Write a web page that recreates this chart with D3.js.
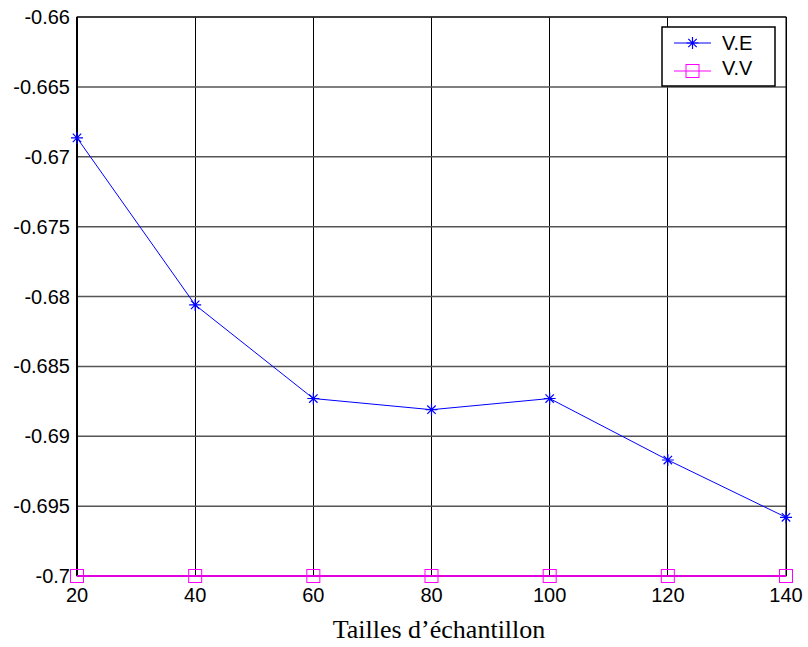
<!DOCTYPE html>
<meta charset="utf-8">
<style>
body { margin: 0; background: #fff; }
text { font-family: "Liberation Sans", Arial, sans-serif; }
</style>
<svg width="808" height="647"></svg>
<script src="https://d3js.org/d3.v7.min.js"></script>
<script>

var sizes = [20, 40, 60, 80, 100, 120, 140];
var ve = [-0.66865, -0.6806, -0.6873, -0.6881, -0.6873, -0.6917, -0.6958];
var vv = [-0.7, -0.7, -0.7, -0.7, -0.7, -0.7, -0.7];
var yTicks = [-0.66, -0.665, -0.67, -0.675, -0.68, -0.685, -0.69, -0.695, -0.7];
var yTickLabels = ["-0.66", "-0.665", "-0.67", "-0.675", "-0.68", "-0.685", "-0.69", "-0.695", "-0.7"];

var svg = d3.select("svg");
var plotL = 77, plotR = 786, plotT = 17, plotB = 576;

var x = d3.scaleLinear().domain([20, 140]).range([plotL, plotR]);
var y = d3.scaleLinear().domain([-0.7, -0.66]).range([plotB, plotT]);

// grid
svg.append("g").selectAll("line").data(sizes).enter().append("line")
    .attr("x1", function(d) { return x(d); }).attr("x2", function(d) { return x(d); })
    .attr("y1", plotT).attr("y2", plotB)
    .attr("stroke", "#000").attr("stroke-width", 1).attr("shape-rendering", "crispEdges");
svg.append("g").selectAll("line").data(yTicks).enter().append("line")
    .attr("x1", plotL).attr("x2", plotR)
    .attr("y1", function(d) { return y(d); }).attr("y2", function(d) { return y(d); })
    .attr("stroke", "#555").attr("stroke-width", 1.5);

// box
svg.append("rect").attr("x", plotL).attr("y", plotT)
    .attr("width", plotR - plotL).attr("height", plotB - plotT)
    .attr("fill", "none").attr("stroke", "#000").attr("stroke-width", 1);
svg.append("line").attr("x1", plotL).attr("x2", plotL).attr("y1", plotT).attr("y2", plotB)
    .attr("stroke", "#000").attr("stroke-width", 2);
svg.append("line").attr("x1", plotL).attr("x2", plotR).attr("y1", plotB).attr("y2", plotB)
    .attr("stroke", "#000").attr("stroke-width", 2);

// tick labels
svg.append("g").selectAll("text").data(yTicks).enter().append("text")
    .attr("x", plotL - 7).attr("y", function(d) { return y(d); })
    .attr("dy", "0.35em").attr("text-anchor", "end")
    .attr("font-size", 20)
    .text(function(d, i) { return yTickLabels[i]; });
svg.append("g").selectAll("text").data(sizes).enter().append("text")
    .attr("x", function(d) { return x(d); }).attr("y", plotB + 26)
    .attr("text-anchor", "middle").attr("font-size", 20)
    .text(function(d) { return d; });

svg.append("text").attr("x", 439).attr("y", 638)
    .attr("text-anchor", "middle")
    .style("font-family", "'Liberation Serif', 'Times New Roman', serif")
    .attr("font-size", 26)
    .text("Tailles d\u2019échantillon");

var line = d3.line().x(function(d, i) { return x(sizes[i]); }).y(function(d) { return y(d); });

// V.V
svg.append("path").datum(vv).attr("d", line)
    .attr("fill", "none").attr("stroke", "#e000e0").attr("stroke-width", 2);
svg.append("g").selectAll("rect").data(vv).enter().append("rect")
    .attr("x", function(d, i) { return x(sizes[i]) - 6.5; })
    .attr("y", function(d) { return y(d) - 6.5; })
    .attr("width", 13).attr("height", 13)
    .attr("fill", "none").attr("stroke", "#ff00ff").attr("stroke-width", 1);

// V.E
svg.append("path").datum(ve).attr("d", line)
    .attr("fill", "none").attr("stroke", "#0000ff").attr("stroke-width", 1);
function star(g, cx, cy, r) {
  var p = "M" + (cx - r) + "," + cy + "H" + (cx + r) +
          "M" + cx + "," + (cy - r) + "V" + (cy + r) +
          "M" + (cx - r * 0.7) + "," + (cy - r * 0.7) + "L" + (cx + r * 0.7) + "," + (cy + r * 0.7) +
          "M" + (cx - r * 0.7) + "," + (cy + r * 0.7) + "L" + (cx + r * 0.7) + "," + (cy - r * 0.7);
  g.append("path").attr("d", p).attr("stroke", "#0000ff").attr("stroke-width", 1.2).attr("fill", "none");
}
var stars = svg.append("g");
ve.forEach(function(d, i) { star(stars, x(sizes[i]), y(d), 6); });

// legend
var lg = svg.append("g");
lg.append("rect").attr("x", 662).attr("y", 27).attr("width", 113).attr("height", 59)
    .attr("fill", "#fff").attr("stroke", "#000").attr("stroke-width", 1.5);
lg.append("line").attr("x1", 674).attr("x2", 711).attr("y1", 43).attr("y2", 43)
    .attr("stroke", "#0000ff").attr("stroke-width", 1);
star(lg, 692.5, 43, 6);
lg.append("line").attr("x1", 674).attr("x2", 711).attr("y1", 71).attr("y2", 71)
    .attr("stroke", "#ff00ff").attr("stroke-width", 1);
lg.append("rect").attr("x", 686).attr("y", 64.5).attr("width", 13).attr("height", 13)
    .attr("fill", "none").attr("stroke", "#ff00ff").attr("stroke-width", 1);
lg.append("text").attr("x", 722).attr("y", 43).attr("dy", "0.35em").attr("font-size", 20).text("V.E");
lg.append("text").attr("x", 722).attr("y", 67.5).attr("dy", "0.35em").attr("font-size", 20).text("V.V");

</script>
